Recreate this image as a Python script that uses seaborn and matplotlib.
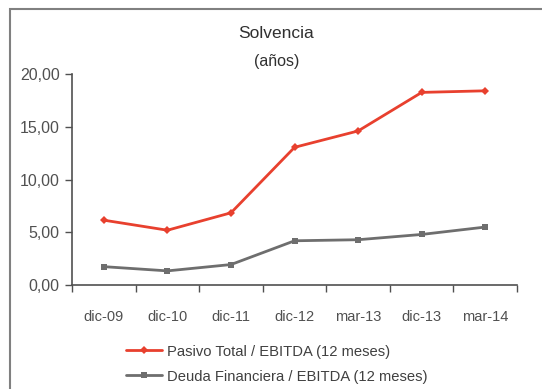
import matplotlib
matplotlib.use("Agg")
import matplotlib.pyplot as plt
import seaborn as sns
import pandas as pd
from matplotlib.patches import Rectangle
from matplotlib.ticker import FixedLocator, FuncFormatter

categories = ["dic-09", "dic-10", "dic-11", "dic-12", "mar-13", "dic-13", "mar-14"]
pasivo_total = [6.15, 5.2, 6.85, 13.05, 14.6, 18.25, 18.4]
deuda_financiera = [1.75, 1.35, 1.95, 4.2, 4.3, 4.8, 5.5]
series_names = ["Pasivo Total / EBITDA (12 meses)", "Deuda Financiera / EBITDA (12 meses)"]
yticks = [0, 5, 10, 15, 20]

df = pd.DataFrame({
    "cat": categories * 2,
    "val": pasivo_total + deuda_financiera,
    "serie": [series_names[0]] * len(categories) + [series_names[1]] * len(categories),
})

sns.set_theme(style="white")
plt.rcParams["font.family"] = ["Liberation Sans", "DejaVu Sans"]

fig = plt.figure(figsize=(5.42, 3.89), dpi=100)
ax = fig.add_axes([0.133, 0.267, 0.821, 0.543])

red = "#e8402e"
gray = "#6e6e6e"
sns.lineplot(data=df, x="cat", y="val", hue="serie", style="serie",
             palette=[red, gray], markers=["D", "s"], dashes=False,
             markersize=4.5, linewidth=2.0, markeredgewidth=0, ax=ax, sort=False)

ax.set_xlim(-0.5, len(categories) - 0.5)
ax.set_ylim(0, 20)
ax.yaxis.set_major_locator(FixedLocator(yticks))
ax.yaxis.set_major_formatter(FuncFormatter(lambda v, p: f"{v:.2f}".replace(".", ",")))
ax.set_xticks(range(len(categories)))
ax.set_xticklabels(categories)
ax.set_xticks([i + 0.5 for i in range(-1, len(categories))], minor=True)
ax.tick_params(axis="x", which="major", length=0, pad=18, labelsize=10.5, colors="#505050")
ax.tick_params(axis="x", which="minor", length=5, width=1, color="#505050", direction="out", bottom=True)
ax.tick_params(axis="y", which="major", length=5, width=1, color="#505050", direction="out", left=True,
               labelsize=11.5, colors="#505050", pad=4)
for s in ["top", "right"]:
    ax.spines[s].set_visible(False)
for s in ["left", "bottom"]:
    ax.spines[s].set_color("#505050")
    ax.spines[s].set_linewidth(1.2)
ax.set_xlabel("")
ax.set_ylabel("")

handles, labels = ax.get_legend_handles_labels()
ax.legend_.remove()
leg = fig.legend(handles, labels, loc="center", bbox_to_anchor=(0.51, 0.064), frameon=False,
                 fontsize=10.6, handlelength=2.5, handletextpad=0.3, labelspacing=0.75,
                 bbox_transform=fig.transFigure)
for t in leg.get_texts():
    t.set_color("#404040")

fig.text(0.509, 0.915, "Solvencia", ha="center", va="center", fontsize=12.5, color="#303030")
fig.text(0.511, 0.843, "(años)", ha="center", va="center", fontsize=11.5, color="#303030")

fig.patches.append(Rectangle((10 / 542, -0.05), 1.1, 1.05 - 9 / 389, transform=fig.transFigure,
                             fill=False, edgecolor="#808080", linewidth=1.5))

fig.savefig("out.png", dpi=100)
